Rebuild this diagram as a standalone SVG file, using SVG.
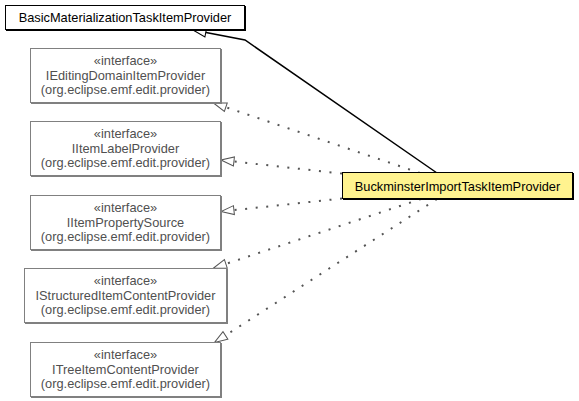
<svg xmlns="http://www.w3.org/2000/svg" width="579" height="401" viewBox="0 0 579 401">
<style>
  .bg { fill: #ffffff; }
  .shadow-i { fill: #808080; }
  .box-i { fill: #ffffff; stroke: #808080; stroke-width: 1; }
  .shadow-c { fill: #000000; }
  .box-c { fill: #ffffff; stroke: #000000; stroke-width: 1; }
  .box-main { fill: #fff38f; stroke: #000000; stroke-width: 1; }
  .txt { font-family: "Liberation Sans", Arial, sans-serif; font-size: 12.8px; text-anchor: middle; }
  .txt-i { fill: #505050; }
  .txt-c { fill: #000000; }
  .gen { fill: none; stroke: #000000; stroke-width: 1.5; }
  .real { fill: none; stroke: #555555; stroke-width: 2; stroke-dasharray: 2 8.6; }
</style>
<defs>
  <marker id="hollowBlack" markerUnits="userSpaceOnUse" markerWidth="16" markerHeight="12" viewBox="0 0 16 12" refX="14.5" refY="6" orient="auto">
    <path d="M14.5,6 L1.5,1.5 L1.5,10.5 Z" fill="#ffffff" stroke="#000000" stroke-width="1" stroke-dasharray="none"/>
  </marker>
  <marker id="hollowGray" markerUnits="userSpaceOnUse" markerWidth="16" markerHeight="12" viewBox="0 0 16 12" refX="14.5" refY="6" orient="auto">
    <path d="M14.5,6 L1.5,1.5 L1.5,10.5 Z" fill="#ffffff" stroke="#555555" stroke-width="1" stroke-dasharray="none"/>
  </marker>
</defs>
<rect class="bg" x="0" y="0" width="579" height="401"/>

<g id="connectors">
  <path class="gen" d="M437,173 L245,40 L193,30" marker-end="url(#hollowBlack)"/>
  <path class="real" d="M420,173 L213.5,103" marker-end="url(#hollowGray)"/>
  <path class="real" d="M342,173.6 L221,160" marker-end="url(#hollowGray)"/>
  <path class="real" d="M342,198.5 L221,211.5" marker-end="url(#hollowGray)"/>
  <path class="real" d="M421,199 L213.5,268" marker-end="url(#hollowGray)"/>
  <path class="real" d="M437,199 L214.5,342.5" marker-end="url(#hollowGray)"/>
</g>

<g id="BasicMaterializationTaskItemProvider">
  <rect class="shadow-c" x="6" y="6" width="240" height="25"/>
  <rect class="box-c" x="5.5" y="5.5" width="239" height="24"/>
  <text class="txt txt-c" x="125" y="21.5">BasicMaterializationTaskItemProvider</text>
</g>

<g id="IEditingDomainItemProvider">
  <rect class="shadow-i" x="31" y="49" width="191" height="55"/>
  <rect class="box-i" x="30.5" y="48.5" width="190" height="54"/>
  <text class="txt txt-i" x="125.5" y="65">«interface»</text>
  <text class="txt txt-i" x="125.5" y="79.5">IEditingDomainItemProvider</text>
  <text class="txt txt-i" x="125.5" y="94">(org.eclipse.emf.edit.provider)</text>
</g>

<g id="IItemLabelProvider">
  <rect class="shadow-i" x="31" y="122" width="191" height="55"/>
  <rect class="box-i" x="30.5" y="121.5" width="190" height="54"/>
  <text class="txt txt-i" x="125.5" y="138">«interface»</text>
  <text class="txt txt-i" x="125.5" y="152.5">IItemLabelProvider</text>
  <text class="txt txt-i" x="125.5" y="167">(org.eclipse.emf.edit.provider)</text>
</g>

<g id="IItemPropertySource">
  <rect class="shadow-i" x="31" y="196" width="191" height="55"/>
  <rect class="box-i" x="30.5" y="195.5" width="190" height="54"/>
  <text class="txt txt-i" x="125.5" y="212">«interface»</text>
  <text class="txt txt-i" x="125.5" y="226.5">IItemPropertySource</text>
  <text class="txt txt-i" x="125.5" y="241">(org.eclipse.emf.edit.provider)</text>
</g>

<g id="IStructuredItemContentProvider">
  <rect class="shadow-i" x="25" y="269" width="203" height="55"/>
  <rect class="box-i" x="24.5" y="268.5" width="202" height="54"/>
  <text class="txt txt-i" x="125.5" y="285">«interface»</text>
  <text class="txt txt-i" x="125.5" y="299.5">IStructuredItemContentProvider</text>
  <text class="txt txt-i" x="125.5" y="314">(org.eclipse.emf.edit.provider)</text>
</g>

<g id="ITreeItemContentProvider">
  <rect class="shadow-i" x="31" y="343" width="191" height="55"/>
  <rect class="box-i" x="30.5" y="342.5" width="190" height="54"/>
  <text class="txt txt-i" x="125.5" y="359">«interface»</text>
  <text class="txt txt-i" x="125.5" y="373.5">ITreeItemContentProvider</text>
  <text class="txt txt-i" x="125.5" y="388">(org.eclipse.emf.edit.provider)</text>
</g>

<g id="BuckminsterImportTaskItemProvider">
  <rect class="shadow-c" x="343" y="173" width="231" height="27"/>
  <rect class="box-main" x="342.5" y="172.5" width="230" height="26"/>
  <text class="txt txt-c" x="457.5" y="190.5">BuckminsterImportTaskItemProvider</text>
</g>
</svg>
